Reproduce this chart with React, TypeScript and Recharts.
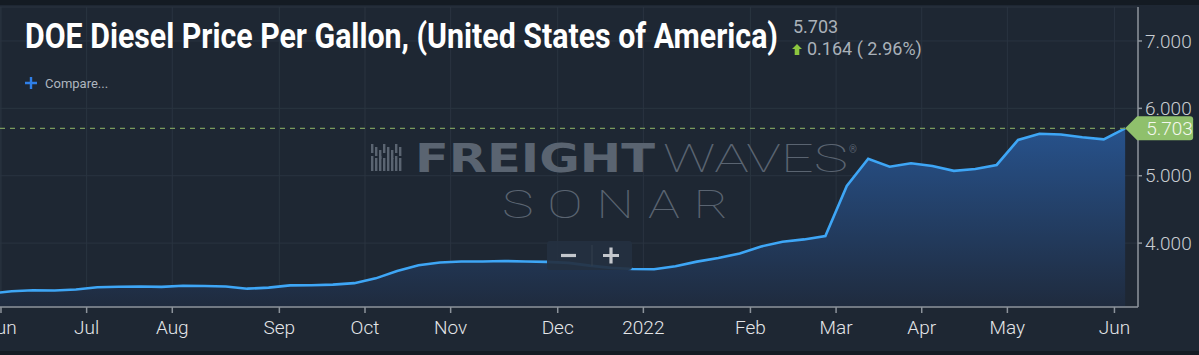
import {
  ComposedChart,
  Area,
  XAxis,
  YAxis,
  CartesianGrid,
  ReferenceLine,
  ReferenceDot,
} from "recharts";

// weekly DOE retail diesel, US average ($/gal)
const weeks = [
  "2021-05-31", "2021-06-07", "2021-06-14", "2021-06-21", "2021-06-28",
  "2021-07-05", "2021-07-12", "2021-07-19", "2021-07-26",
  "2021-08-02", "2021-08-09", "2021-08-16", "2021-08-23", "2021-08-30",
  "2021-09-06", "2021-09-13", "2021-09-20", "2021-09-27",
  "2021-10-04", "2021-10-11", "2021-10-18", "2021-10-25",
  "2021-11-01", "2021-11-08", "2021-11-15", "2021-11-22", "2021-11-29",
  "2021-12-06", "2021-12-13", "2021-12-20", "2021-12-27",
  "2022-01-03", "2022-01-10", "2022-01-17", "2022-01-24", "2022-01-31",
  "2022-02-07", "2022-02-14", "2022-02-21", "2022-02-28",
  "2022-03-07", "2022-03-14", "2022-03-21", "2022-03-28",
  "2022-04-04", "2022-04-11", "2022-04-18", "2022-04-25",
  "2022-05-02", "2022-05-09", "2022-05-16", "2022-05-23", "2022-05-31",
  "2022-06-06",
];

const prices = [
  3.253, 3.286, 3.3, 3.296, 3.311,
  3.346, 3.353, 3.356, 3.35,
  3.367, 3.364, 3.356, 3.324, 3.339,
  3.373, 3.375, 3.384, 3.406,
  3.477, 3.586, 3.671, 3.713,
  3.727, 3.728, 3.734, 3.727, 3.721,
  3.707, 3.666, 3.633, 3.615,
  3.613, 3.657, 3.725, 3.78, 3.846,
  3.951, 4.02, 4.055, 4.104,
  4.849, 5.252, 5.134, 5.185,
  5.144, 5.073, 5.101, 5.16,
  5.532, 5.623, 5.613, 5.571, 5.539,
  5.703,
];

const monthLabels = ["Jun", "Jul", "Aug", "Sep", "Oct", "Nov", "Dec", "2022", "Feb", "Mar", "Apr", "May", "Jun"];
const priceTicks = [4, 5, 6, 7];

const lastPrice = 5.703;
const change = "0.164 ( 2.96%)";

// index -1 is the week just left of the visible window
const data = weeks.map((d, k) => ({ i: k - 1, date: d, v: prices[k] }));

// a tick sits on the left edge of the first week of each month
const monthTicks: number[] = [];
for (let k = 1; k < weeks.length; k++) {
  if (weeks[k].slice(5, 7) !== weeks[k - 1].slice(5, 7)) monthTicks.push(k - 1 - 0.5);
}

const lastIdx = data[data.length - 1].i;
const xMin = -0.546;
const xMax = 52.6;

const PriceTag = (props: any) => {
  const { cx, cy } = props;
  if (cx == null || cy == null) return null;
  const h = 12;
  const w = 68;
  return (
    <g>
      <path
        d={`M${cx},${cy} L${cx + 12},${cy - h} L${cx + w - 3},${cy - h} Q${cx + w},${cy - h} ${cx + w},${cy - h + 3} L${cx + w},${cy + h - 3} Q${cx + w},${cy + h} ${cx + w - 3},${cy + h} L${cx + 12},${cy + h} Z`}
        fill="#8fc06c"
      />
      <text
        x={cx + 21}
        y={cy + 7}
        fill="#f4f8ef"
        fontSize={19}
        fontFamily="Roboto"
        fontWeight={300}
      >
        {lastPrice.toFixed(3)}
      </text>
    </g>
  );
};

export default function App() {
  return (
    <div
      style={{
        position: "absolute",
        left: 0,
        top: 0,
        width: 1199,
        height: 355,
        background: "#1e2733",
        overflow: "hidden",
      }}
    >
      <ComposedChart
        width={1199}
        height={355}
        data={data}
        margin={{ top: 7, right: 0, left: 0, bottom: 0 }}
      >
        <defs>
          <linearGradient id="dieselFill" x1="0" y1="0" x2="0" y2="1">
            <stop offset="0%" stopColor="#27528c" />
            <stop offset="100%" stopColor="#1f2b3e" />
          </linearGradient>
        </defs>
        <CartesianGrid stroke="#2a3440" strokeWidth={1} />
        <XAxis
          dataKey="i"
          type="number"
          domain={[xMin, xMax]}
          allowDataOverflow
          ticks={monthTicks}
          interval={0}
          tickFormatter={(t: number) => monthLabels[monthTicks.indexOf(t)] ?? ""}
          height={48}
          tickSize={6}
          tickMargin={8}
          stroke="#8c939b"
          strokeWidth={1.5}
          tick={{ fill: "#e4e6e9", fontSize: 19, fontFamily: "Roboto", fontWeight: 300 }}
        />
        <YAxis
          orientation="right"
          width={61}
          type="number"
          domain={[3.052, 7.504]}
          allowDataOverflow
          ticks={priceTicks}
          interval={0}
          tickFormatter={(v: number) => v.toFixed(3)}
          tickSize={4}
          tickMargin={3}
          stroke="#8c939b"
          strokeWidth={1.5}
          tick={{ fill: "#c9cdd2", fontSize: 19, fontFamily: "Roboto", fontWeight: 300, textAnchor: "start" }}
        />
        <Area
          type="linear"
          dataKey="v"
          stroke="#3ea6f6"
          strokeWidth={2.6}
          fill="url(#dieselFill)"
          fillOpacity={1}
          dot={false}
          activeDot={false}
          isAnimationActive={false}
        />
        <ReferenceLine
          segment={[
            { x: xMin, y: lastPrice },
            { x: lastIdx, y: lastPrice },
          ]}
          stroke="#7a9a5c"
          strokeWidth={1.3}
          strokeDasharray="5 5"
        />
        <ReferenceDot x={lastIdx} y={lastPrice} shape={PriceTag} />
      </ComposedChart>

      <svg
        width={1199}
        height={355}
        style={{ position: "absolute", left: 0, top: 0, pointerEvents: "none" }}
      >
        <rect x={0} y={0} width={1199} height={5} fill="#141b23" />
        <rect x={0} y={351} width={1199} height={4} fill="#141b23" />

        <text
          x={25}
          y={48}
          fill="#ffffff"
          fontSize={35}
          fontFamily="Roboto"
          fontWeight={700}
          textLength={753}
          lengthAdjust="spacingAndGlyphs"
        >
          DOE Diesel Price Per Gallon, (United States of America)
        </text>
        <text x={793} y={33} fill="#aab1b9" fontSize={18} fontFamily="Roboto">
          {lastPrice.toFixed(3)}
        </text>
        <path d="M797,44 L802,49 L799.3,49 L799.3,55 L794.7,55 L794.7,49 L792,49 Z" fill="#8cc63f" />
        <text x={807} y={55} fill="#aab1b9" fontSize={18} fontFamily="Roboto">
          {change}
        </text>

        <path d="M25,83 L37,83 M31,77 L31,89" stroke="#2f7fe8" strokeWidth={2.4} />
        <text x={45} y={88} fill="#aeb6bf" fontSize={13} fontFamily="Roboto">
          Compare...
        </text>

        <g fill="#5a6471">
          {[0, 4, 8, 12, 16, 20, 24, 28].map((dx, k) => (
            <g key={k}>
              <rect x={371 + dx} y={144 + (k % 3) * 3} width={2.4} height={9} />
              <rect x={371 + dx} y={156 + (k % 2) * 2} width={2.4} height={15 - (k % 2) * 2} />
            </g>
          ))}
          <text
            x={415}
            y={172}
            fontSize={39}
            fontFamily="DejaVu Sans"
            fontWeight={900}
            textLength={240}
            lengthAdjust="spacingAndGlyphs"
          >
            FREIGHT
          </text>
          <text
            x={663}
            y={172}
            fontSize={39}
            fontFamily="Roboto"
            fontWeight={100}
            textLength={185}
            lengthAdjust="spacingAndGlyphs"
          >
            WAVES
          </text>
          <text x={849} y={153} fontSize={10} fontFamily="Roboto">
            ®
          </text>
          <text
            x={502}
            y={218}
            fontSize={39}
            fontFamily="Roboto"
            fontWeight={100}
            letterSpacing={10}
            textLength={240}
            lengthAdjust="spacingAndGlyphs"
          >
            SONAR
          </text>
        </g>

        <rect x={547} y={241} width={85} height={29} rx={3} fill="#243040" fillOpacity={0.92} />
        <line x1={592} y1={245} x2={592} y2={266} stroke="#34404f" strokeWidth={1} />
        <path d="M561,255.5 L576,255.5" stroke="#c3c7cc" strokeWidth={3.2} />
        <path d="M603,255.5 L619,255.5 M611,247.5 L611,263.5" stroke="#c3c7cc" strokeWidth={3.2} />
      </svg>
    </div>
  );
}
